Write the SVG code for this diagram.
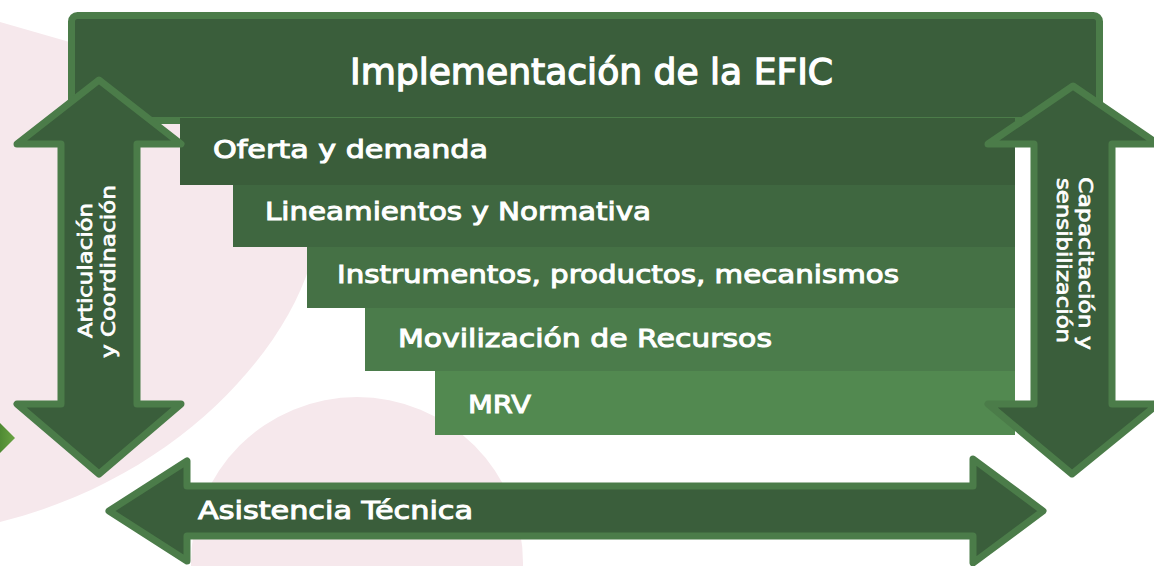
<svg xmlns="http://www.w3.org/2000/svg" width="1154" height="566" viewBox="0 0 1154 566">
  <defs>
    <style>
      .pink { fill: #f6e8ec; }
      .box { fill: #3a5e3b; stroke: #4b7c49; stroke-width: 7; stroke-linejoin: round; }
      .arrow { fill: #3a5e3b; stroke: #4b7c49; stroke-width: 7; stroke-linejoin: round; }
      .t { fill: #ffffff; stroke: #ffffff; stroke-width: 1; font-family: "DejaVu Sans", "Liberation Sans", sans-serif; font-weight: normal; }
      .title { stroke-width: 1.3; }
      .row { font-size: 25px; }
      .side { font-size: 19px; stroke-width: 0.7; }
    </style>
    <linearGradient id="tri" x1="0" y1="0" x2="1" y2="0">
      <stop offset="0" stop-color="#4f8a33"/>
      <stop offset="1" stop-color="#6aa343"/>
    </linearGradient>
  </defs>
  <rect width="1154" height="566" fill="#ffffff"/>
  <g id="background">
    <path class="pink" d="M0,22 L80,45 L330,200 L310,265 C280,360 170,480 0,522 Z"/>
    <circle class="pink" cx="357" cy="563" r="166"/>
    <polygon points="0,423 15,438 0,453" fill="url(#tri)"/>
  </g>
  <g id="title-box">
    <rect class="box" x="71.5" y="15.5" width="1028" height="105" rx="6"/>
    <text class="t title" x="350" y="84" font-size="36" textLength="483" lengthAdjust="spacingAndGlyphs">Implementación de la EFIC</text>
  </g>
  <g id="row-oferta">
    <rect x="180" y="118" width="835" height="67" fill="#3a5d3a"/>
    <text class="t row" x="213" y="158" textLength="275" lengthAdjust="spacingAndGlyphs">Oferta y demanda</text>
  </g>
  <g id="row-lineamientos">
    <rect x="233" y="185" width="782" height="62" fill="#3f6740"/>
    <text class="t row" x="265" y="220" textLength="386" lengthAdjust="spacingAndGlyphs">Lineamientos y Normativa</text>
  </g>
  <g id="row-instrumentos">
    <rect x="307" y="247" width="708" height="61" fill="#457145"/>
    <text class="t row" x="337" y="283" textLength="562" lengthAdjust="spacingAndGlyphs">Instrumentos, productos, mecanismos</text>
  </g>
  <g id="row-movilizacion">
    <rect x="365" y="308" width="650" height="63" fill="#4b7c4b"/>
    <text class="t row" x="398" y="347" textLength="374" lengthAdjust="spacingAndGlyphs">Movilización de Recursos</text>
  </g>
  <g id="row-mrv">
    <rect x="435" y="371" width="580" height="64" fill="#528950"/>
    <text class="t row" x="468" y="413" textLength="63" lengthAdjust="spacingAndGlyphs">MRV</text>
  </g>
  <g id="connectors">
    <g id="arrow-articulacion">
      <path class="arrow" d="M99,80 L181,144 L137,144 L137,404 L181,404 L99,474 L17,404 L61,404 L61,144 L17,144 Z"/>
      <text class="t side" transform="translate(92,270.5) rotate(-90)" text-anchor="middle" textLength="135" lengthAdjust="spacingAndGlyphs">Articulación</text>
      <text class="t side" transform="translate(114.5,271.5) rotate(-90)" text-anchor="middle" textLength="173" lengthAdjust="spacingAndGlyphs">y Coordinación</text>
    </g>
    <g id="arrow-capacitacion">
      <path class="arrow" d="M1073,86 L1158,144 L1112,144 L1112,404 L1158,404 L1072,474 L988,404 L1034,404 L1034,144 L988,144 Z"/>
      <text class="t side" transform="translate(1079,263.5) rotate(90)" text-anchor="middle" textLength="173" lengthAdjust="spacingAndGlyphs">Capacitación y</text>
      <text class="t side" transform="translate(1057,260.5) rotate(90)" text-anchor="middle" textLength="165" lengthAdjust="spacingAndGlyphs">sensibilización</text>
    </g>
    <g id="arrow-asistencia">
      <path class="arrow" d="M109,511 L187,461 L187,486 L973,486 L973,459 L1043,511 L973,563 L973,536 L187,536 L187,561 Z"/>
      <text class="t row" x="198" y="519" textLength="275" lengthAdjust="spacingAndGlyphs">Asistencia Técnica</text>
    </g>
  </g>
</svg>
